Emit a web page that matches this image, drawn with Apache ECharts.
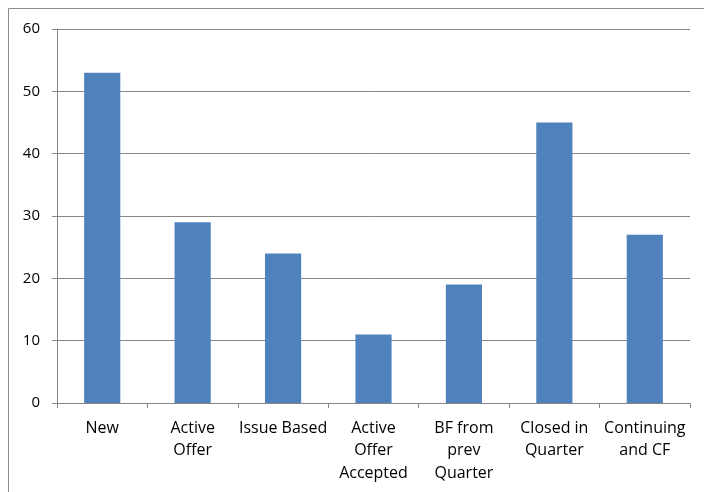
<!DOCTYPE html>
<html>
<head>
<meta charset="utf-8">
<script src="https://cdn.jsdelivr.net/npm/echarts@6/dist/echarts.min.js"></script>
<style>
  html, body { margin: 0; padding: 0; background: #fff; }
  #chart { width: 704px; height: 492px; }
</style>
</head>
<body>
<div id="chart"></div>
<script>
// Case counts by stage for the quarter
const categories = [
  'New',
  'Active\nOffer',
  'Issue Based',
  'Active\nOffer\nAccepted',
  'BF from\nprev\nQuarter',
  'Closed in\nQuarter',
  'Continuing\nand CF'
];
const counts = [53, 29, 24, 11, 19, 45, 27];
const yTicks = [0, 10, 20, 30, 40, 50, 60];

const chart = echarts.init(document.getElementById('chart'));
const axisGray = '#868686';
const font = '"Open Sans", Lato, sans-serif';

chart.setOption({
  animation: false,
  graphic: [{
    type: 'rect',
    shape: { x: 8.5, y: 8.5, width: 710, height: 500 },
    style: { fill: 'none', stroke: '#8c8c8c', lineWidth: 1 },
    silent: true
  }],
  grid: { left: 57, right: 14, top: 29, bottom: 89, containLabel: false },
  xAxis: {
    type: 'category',
    data: categories,
    axisLine: { lineStyle: { color: axisGray, width: 1 } },
    axisTick: { show: true, alignWithLabel: false, length: 5, lineStyle: { color: axisGray } },
    axisLabel: {
      interval: 0,
      margin: 14,
      color: '#000',
      fontFamily: font,
      fontSize: 16,
      lineHeight: 22.5
    }
  },
  yAxis: {
    type: 'value',
    min: yTicks[0],
    max: yTicks[yTicks.length - 1],
    interval: 10,
    axisLine: { show: true, lineStyle: { color: axisGray, width: 1 } },
    axisTick: { show: true, length: 5, lineStyle: { color: axisGray } },
    splitLine: { show: true, lineStyle: { color: axisGray, width: 1 } },
    axisLabel: {
      margin: 17,
      color: '#000',
      fontFamily: font,
      fontSize: 15
    }
  },
  series: [{
    type: 'bar',
    data: counts,
    barWidth: '40%',
    itemStyle: { color: '#4F81BD' }
  }]
});
</script>
</body>
</html>
